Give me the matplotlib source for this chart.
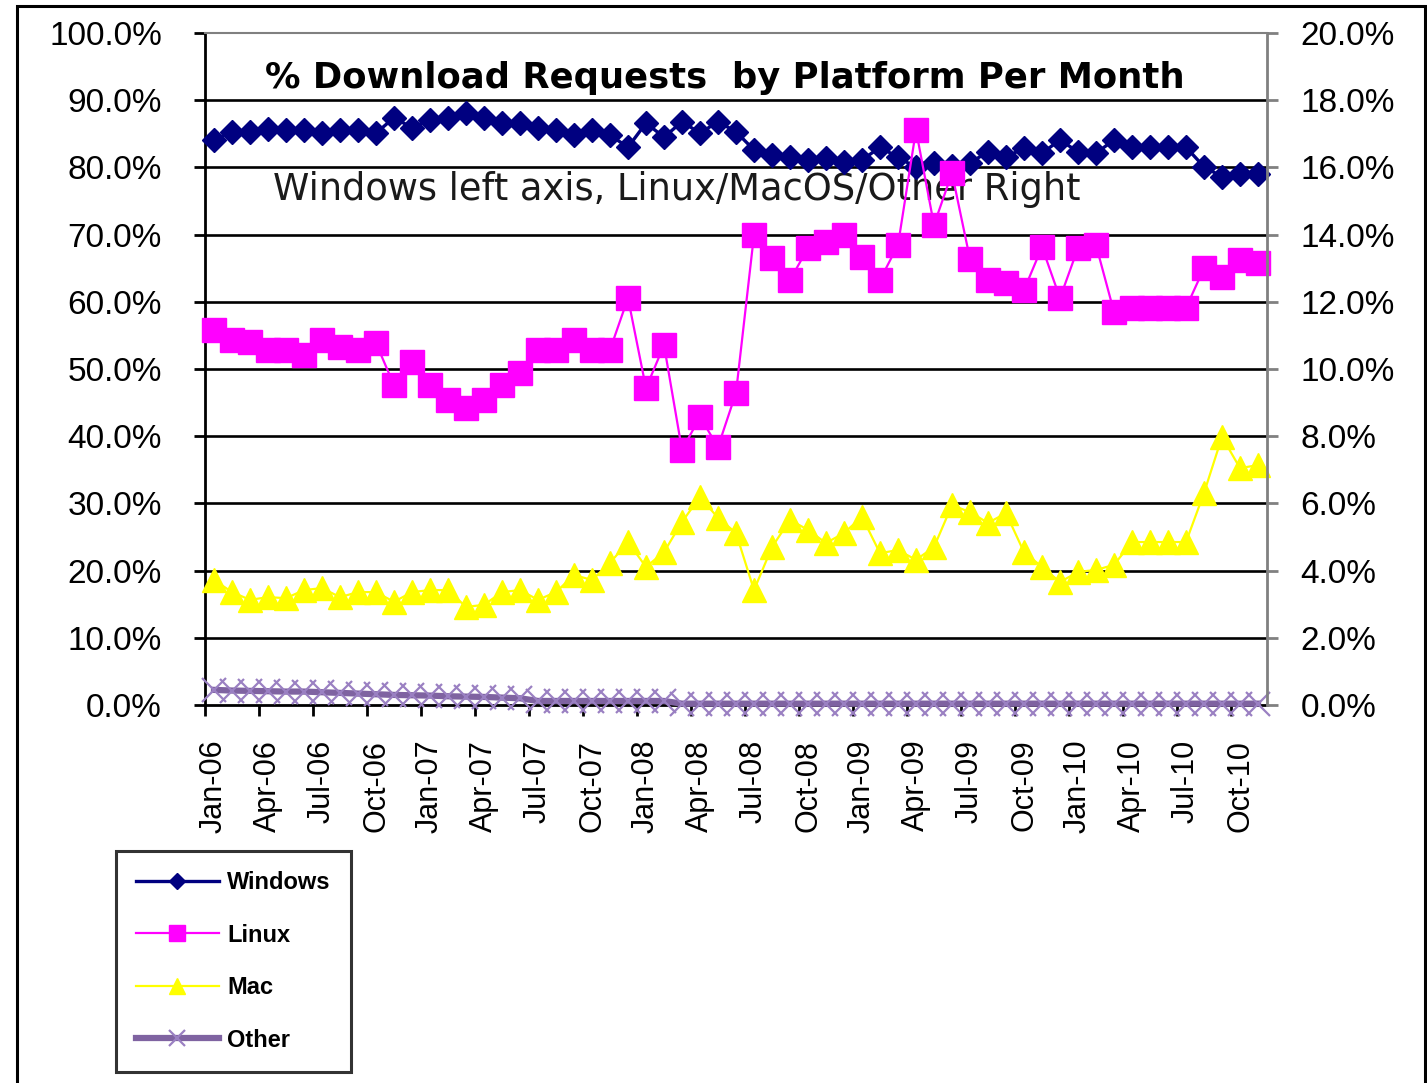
import matplotlib
matplotlib.use('Agg')
import matplotlib.pyplot as plt
import numpy as np
import pandas as pd
from matplotlib.patches import Rectangle
from matplotlib.ticker import StrMethodFormatter

plt.rcParams['font.family'] = ['Liberation Sans', 'DejaVu Sans']

# monthly categories Jan-06 .. Nov-10
months = pd.date_range('2006-01-01', '2010-11-01', freq='MS')
month_labels = [m.strftime('%b-%y') for m in months]

# Windows share, % (left axis)
windows = [84.1, 85.3, 85.3, 85.7, 85.6, 85.6, 85.1, 85.6, 85.6, 85.1,
           87.4, 85.9, 87.1, 87.4, 88.1, 87.4, 86.6, 86.6, 85.9, 85.6,
           84.8, 85.6, 84.8, 83.0, 86.6, 84.5, 86.8, 85.1, 86.8, 85.3,
           82.6, 81.8, 81.5, 81.1, 81.4, 80.8, 81.1, 83.0, 81.5, 80.0,
           80.7, 80.2, 80.7, 82.3, 81.5, 82.9, 82.1, 84.1, 82.3, 82.1,
           84.1, 83.0, 83.0, 83.0, 83.0, 80.1, 78.6, 79.0, 79.0]

# Linux / Mac / Other share, % (right axis)
linux = [11.16, 10.86, 10.80, 10.57, 10.57, 10.42, 10.86, 10.65, 10.57, 10.77,
         9.52, 10.20, 9.52, 9.08, 8.84, 9.08, 9.52, 9.88, 10.57, 10.57,
         10.86, 10.57, 10.57, 12.11, 9.43, 10.71, 7.59, 8.57, 7.68, 9.29,
         13.99, 13.30, 12.65, 13.60, 13.78, 13.99, 13.33, 12.65, 13.69, 17.11,
         14.29, 15.83, 13.27, 12.65, 12.56, 12.35, 13.63, 12.11, 13.60, 13.69,
         11.70, 11.82, 11.82, 11.82, 11.82, 13.00, 12.74, 13.24, 13.15]

mac = [3.72, 3.36, 3.13, 3.21, 3.18, 3.42, 3.48, 3.21, 3.36, 3.36,
       3.07, 3.36, 3.42, 3.42, 2.92, 2.98, 3.36, 3.42, 3.13, 3.36,
       3.87, 3.72, 4.23, 4.85, 4.11, 4.55, 5.45, 6.19, 5.57, 5.12,
       3.42, 4.70, 5.51, 5.21, 4.82, 5.12, 5.60, 4.52, 4.61, 4.32,
       4.70, 5.95, 5.74, 5.42, 5.71, 4.55, 4.11, 3.66, 3.96, 4.02,
       4.17, 4.85, 4.85, 4.85, 4.85, 6.31, 7.98, 7.05, 7.14]

other = [0.45, 0.43, 0.42, 0.41, 0.40, 0.40, 0.38, 0.36, 0.34, 0.32,
         0.30, 0.29, 0.28, 0.26, 0.25, 0.24, 0.22, 0.20, 0.12, 0.12,
         0.12, 0.12, 0.12, 0.12, 0.12, 0.12, 0.04, 0.04, 0.04, 0.04,
         0.04, 0.04, 0.04, 0.04, 0.04, 0.04, 0.04, 0.04, 0.04, 0.04,
         0.04, 0.04, 0.04, 0.04, 0.04, 0.04, 0.04, 0.04, 0.04, 0.04,
         0.04, 0.04, 0.04, 0.04, 0.04, 0.04, 0.04, 0.04, 0.04]

x = np.arange(len(months))

fig = plt.figure(figsize=(14.27, 10.83), dpi=100)
ax1 = fig.add_axes([205 / 1427, 1 - 705 / 1083, 1062 / 1427, 672 / 1083])
ax2 = ax1.twinx()

# title and note sit under the series, as in the original
ax1.text(0.508, 0.928, '% Download Requests  by Platform Per Month', transform=fig.transFigure,
         ha='center', va='center', fontsize=25.5, fontweight='bold', family='DejaVu Sans', zorder=1)
ax1.text(0.474, 0.825, 'Windows left axis, Linux/MacOS/Other Right', transform=fig.transFigure,
         ha='center', va='center', fontsize=26.5, family='DejaVu Sans', color='#1a1a1a', zorder=1)

ax1.plot(x, windows, color='#000080', lw=2.4, marker='D', ms=12, label='Windows',
         zorder=3, clip_on=False)
ax2.plot(x, linux, color='#FF00FF', lw=1.6, marker='s', ms=17, label='Linux', clip_on=False)
ax2.plot(x, mac, color='#FFFF00', lw=1.6, marker='^', ms=17, label='Mac', clip_on=False)
ax2.plot(x, other, color='#7F63A1', lw=4.5, marker='x', ms=17, mec='#9A80C2', mew=1.6,
         label='Other', clip_on=False)

ax1.set_xlim(-0.5, len(months) - 0.5)
ax1.set_ylim(0, 100)
ax2.set_ylim(0, 20)

ax1.set_yticks(np.arange(0, 101, 10))
ax2.set_yticks(np.arange(0, 21, 2))
ax1.yaxis.set_major_formatter(StrMethodFormatter('{x:.1f}%'))
ax2.yaxis.set_major_formatter(StrMethodFormatter('{x:.1f}%'))

# tick marks between groups of three months, labels on the months
ax1.set_xticks(np.arange(-0.5, len(months), 3))
ax1.set_xticklabels([])
ax1.set_xticks(x[::3], minor=True)
ax1.set_xticklabels(month_labels[::3], minor=True, rotation=90)

ax1.tick_params(axis='x', which='major', direction='out', length=8, width=2, color='black')
ax1.tick_params(axis='x', which='minor', length=0, pad=25, labelsize=22)
ax1.tick_params(axis='y', direction='out', length=8, width=2, color='black', labelsize=24, pad=23)
ax2.tick_params(axis='y', direction='out', length=8, width=2, color='#808080', labelcolor='black',
                labelsize=24, pad=16)

ax1.yaxis.grid(True, color='black', lw=1.9)
ax1.set_axisbelow(True)
ticks = ax1.yaxis.get_major_ticks()
ticks[0].gridline.set_visible(False)
ticks[-1].gridline.set_visible(False)

ax1.spines['right'].set_visible(False)
ax1.spines['top'].set_visible(False)
ax1.spines['left'].set_linewidth(2)
ax1.spines['bottom'].set_linewidth(2)
ax2.spines['left'].set_visible(False)
ax2.spines['bottom'].set_visible(False)
ax2.spines['top'].set_color('#808080')
ax2.spines['top'].set_linewidth(1.5)
ax2.spines['right'].set_color('#808080')
ax2.spines['right'].set_linewidth(2)

h1, l1 = ax1.get_legend_handles_labels()
h2, l2 = ax2.get_legend_handles_labels()
leg = fig.legend(h1 + h2, l1 + l2, loc='upper left', bbox_to_anchor=(116 / 1427, 1 - 851 / 1083),
                 fancybox=False, edgecolor='black', prop={'size': 17, 'weight': 'bold'},
                 handlelength=3.5, handletextpad=0.35, labelspacing=1.25, borderpad=0.85,
                 borderaxespad=0, markerscale=0.7)
leg.get_frame().set_linewidth(2.2)

fig.patches.append(Rectangle((17 / 1427, -0.1), (1425 - 17) / 1427, 1.1 - 6 / 1083,
                             transform=fig.transFigure, fill=False, ec='black', lw=2.2))

fig.savefig('out.png', dpi=100)
